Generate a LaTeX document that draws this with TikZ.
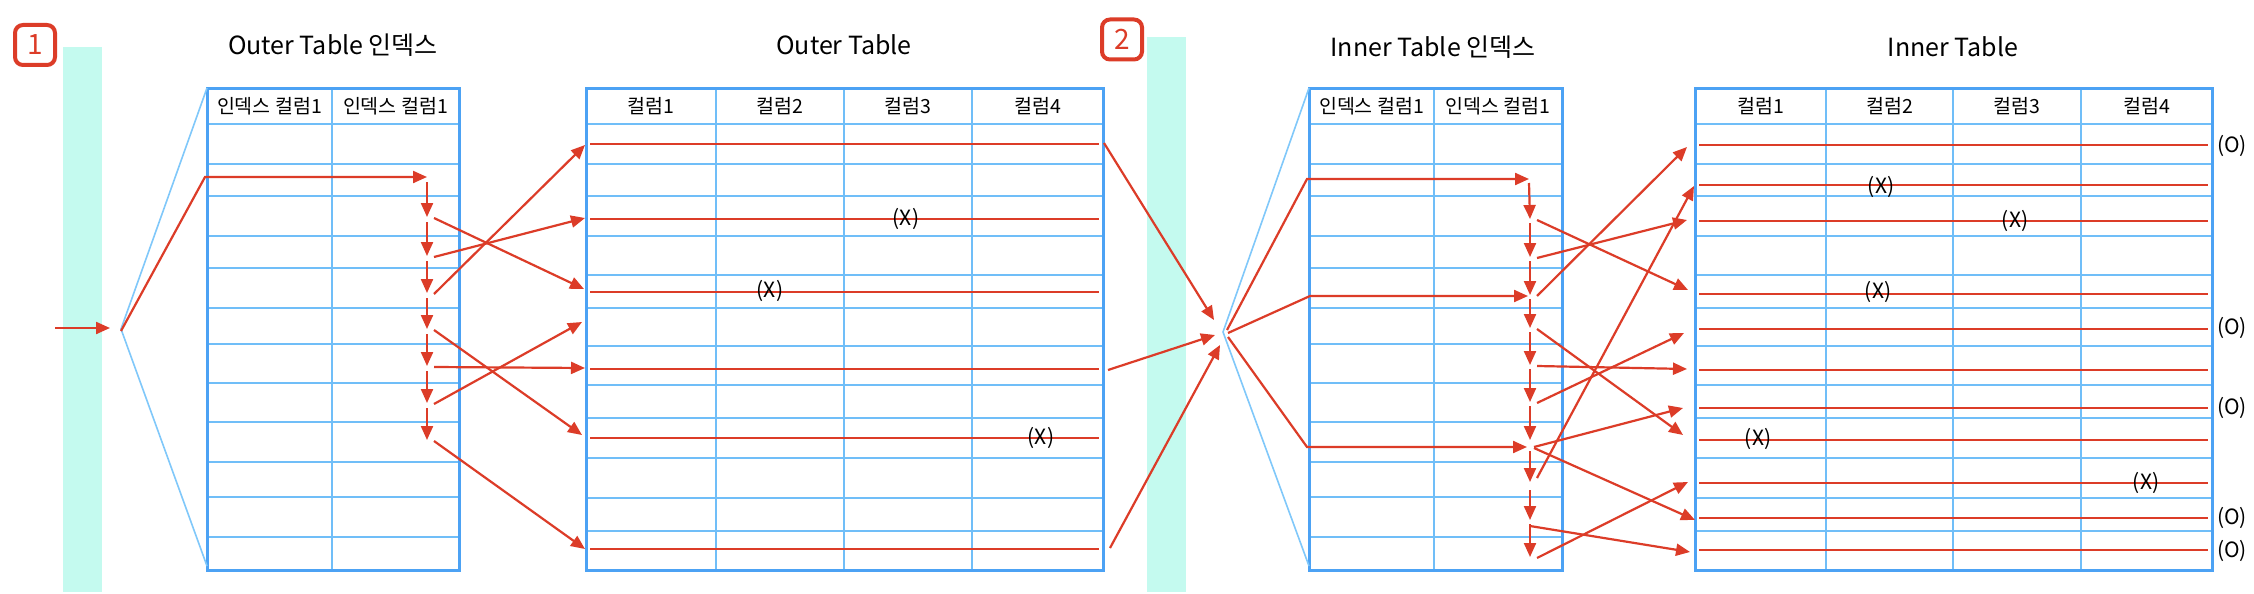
\documentclass[tikz,border=0pt]{standalone}
\usepackage{fontspec}
\setmainfont{Noto Sans CJK KR}
\usetikzlibrary{arrows.meta,calc}
\definecolor{rd}{HTML}{DC3C28}
\definecolor{gridc}{HTML}{70BEF8}
\definecolor{framec}{HTML}{4CA2F4}
\definecolor{fanc}{HTML}{80C8FA}
\definecolor{barc}{HTML}{C4FAEF}
\begin{document}
\begin{tikzpicture}[x=1pt,y=-1pt,
  gridl/.style={gridc,line width=2pt},
  framel/.style={framec,line width=3pt},
  fanl/.style={fanc,line width=1.6pt},
  redl/.style={rd,line width=2.2pt},
  arr/.style={rd,line width=2.2pt,-{Triangle[length=14pt,width=12pt]}},
  ttl/.style={font=\fontsize{25}{30}\selectfont, inner sep=0pt},
  hdr/.style={font=\fontsize{19.5}{22}\selectfont, inner sep=0pt},
  lbl/.style={font=\fontsize{21}{24}\selectfont, inner sep=0pt},
  badge/.style={draw=rd, line width=4pt, rounded corners=8pt, minimum width=40pt, minimum height=40pt, text=rd, font=\fontsize{28}{30}\selectfont, inner sep=0pt}
]
\fill[white] (0,0) rectangle (2254,594);
\useasboundingbox (0,0) rectangle (2254,594);

% ---------- bars and badges
\fill[barc] (63,47) rectangle (102,592);
\fill[barc] (1147,37) rectangle (1186,592);
\node[badge] (b1) at (35,45) {1};
\node[badge] (b2) at (1122,39.5) {2};

% ---------- titles
\node[ttl] (t1) at (333,45) {Outer Table 인덱스};
\node[ttl] (t2) at (844,45) {Outer Table};
\node[ttl] (t3) at (1433,47) {Inner Table 인덱스};
\node[ttl] (t4) at (1953,47) {Inner Table};

% ---------- outer index table
\foreach \y in {124,164,196,236,268,308,344,383,422,462,497,537}
  \draw[gridl] (207,\y) -- (459,\y);
\draw[gridl] (332,88) -- (332,570);
\draw[framel] (207,88) rectangle (459,570);
\node[hdr] (oih1) at (269.5,106) {인덱스 컬럼1};
\node[hdr] (oih2) at (395.5,106) {인덱스 컬럼1};

% ---------- inner index table
\foreach \y in {124,164,196,236,268,308,344,383,422,462,497,537}
  \draw[gridl] (1309,\y) -- (1562,\y);
\draw[gridl] (1434,88) -- (1434,570);
\draw[framel] (1309,88) rectangle (1562,570);
\node[hdr] (iih1) at (1371.5,106) {인덱스 컬럼1};
\node[hdr] (iih2) at (1498,106) {인덱스 컬럼1};

% ---------- outer table
\foreach \y in {124,164,196,236,275,308,346,385,418,458,498,531}
  \draw[gridl] (586,\y) -- (1103,\y);
\foreach \x in {716,844,972}
  \draw[gridl] (\x,88) -- (\x,570);
\draw[framel] (586,88) rectangle (1103,570);
\foreach \x/\n in {651/1,780/2,908/3,1037.5/4}
  \node[hdr] (oth\n) at (\x,106) {컬럼\n};

% ---------- inner table
\foreach \y in {124,164,196,236,275,308,346,385,418,458,498,531}
  \draw[gridl] (1695,\y) -- (2212,\y);
\foreach \x in {1826,1953,2081}
  \draw[gridl] (\x,88) -- (\x,570);
\draw[framel] (1695,88) rectangle (2212,570);
\foreach \x/\n in {1760.5/1,1889.5/2,2017/3,2146.5/4}
  \node[hdr] (ith\n) at (\x,106) {컬럼\n};

% ---------- red row lines
\foreach \y in {144,219,292,369,438,549}
  \draw[redl] (590,\y) -- (1099,\y);
\foreach \y in {145,185,221,294,329,370,408,440,483,518,550}
  \draw[redl] (1699,\y) -- (2208,\y);

% ---------- labels
\node[lbl] (ox1) at (906,219) {(X)};
\node[lbl] (ox2) at (770,291) {(X)};
\node[lbl] (ox3) at (1041,438) {(X)};
\node[lbl] (ix1) at (1881,187) {(X)};
\node[lbl] (ix2) at (2015,221) {(X)};
\node[lbl] (ix3) at (1878,292) {(X)};
\node[lbl] (ix4) at (1758,439) {(X)};
\node[lbl] (ix5) at (2146,483) {(X)};
\foreach \y/\n in {146/1,328/2,408/3,518/4,551/5}
  \node[lbl] (io\n) at (2232,\y) {(O)};

% ---------- fans (blue)
\coordinate (fan1) at (121,329);
\coordinate (fan2) at (1223,332);
\coordinate (oiTL) at (207,88);
\coordinate (oiBL) at (207,566);
\coordinate (iiTL) at (1309,88);
\coordinate (iiBL) at (1309,566);
\draw[fanl] (oiTL) -- (fan1) -- (oiBL);
\draw[fanl] (iiTL) -- (fan2) -- (iiBL);

% ---------- outer index flow
\coordinate (in0) at (55,328);
\coordinate (in1) at (110,328);
\draw[arr] (in0) -- (in1);
\coordinate (oc) at (205,177);
\coordinate (O0) at (427,177);
\draw[arr] ($(fan1)+(0,2)$) -- (oc) -- (O0);
\foreach \i/\y in {1/217,2/256,3/293,4/329,5/366,6/403,7/440}
  \coordinate (O\i) at (427,\y);
\foreach \a/\b in {0/1,1/2,2/3,3/4,4/5,5/6,6/7}
  \draw[arr] ($(O\a)+(0,5)$) -- (O\b);
\coordinate (OT1) at (584,289);
\coordinate (OT2) at (585,218);
\coordinate (OT3) at (585,145);
\coordinate (OT4) at (582,435);
\coordinate (OT5) at (585,368);
\coordinate (OT6) at (582,322);
\coordinate (OT7) at (585,549);
\foreach \i in {1,...,7}
  \draw[arr] ($(O\i)+(7,1)$) -- (OT\i);

% ---------- outer table to second fan
\coordinate (R1) at (1104,143);
\coordinate (R2) at (1108,370);
\coordinate (R3) at (1110,548);
\coordinate (F1) at (1214,320);
\coordinate (F2) at (1215,335);
\coordinate (F3) at (1220,345);
\foreach \i in {1,2,3}
  \draw[arr] (R\i) -- (F\i);

% ---------- inner index flow
\coordinate (ic1) at (1307,179);
\coordinate (ic2) at (1310,296);
\coordinate (ic3) at (1307,447);
\coordinate (I0) at (1529,179);
\coordinate (H3) at (1528,296);
\coordinate (J) at (1527,447);
\draw[arr] ($(fan2)+(4,-2)$) -- (ic1) -- (I0);
\draw[arr] ($(fan2)+(5,1)$) -- (ic2) -- (H3);
\draw[arr] ($(fan2)+(5,5)$) -- (ic3) -- (J);
\foreach \i/\y in {1/219,2/257,3/295,4/328,5/365,6/402,7/440,8/482,9/520,10/557}
  \coordinate (I\i) at (1530,\y);
\coordinate (Jv) at (1530,447);
\coordinate (K) at (1530,526);
\foreach \a/\b in {0/1,1/2,2/3,3/4,4/5,5/6,6/7,9/10}
  \draw[arr] ($(I\a)+(0,4)$) -- (I\b);
\draw[arr] ($(Jv)+(0,4)$) -- (I8);
\draw[arr] ($(I8)+(0,8)$) -- (I9);
\draw[redl] (K) -- ($(I9)+(0,6)$);
\coordinate (IT1) at (1688,290);
\coordinate (IT2) at (1687,220);
\coordinate (IT3) at (1687,147);
\coordinate (IT4) at (1683,435);
\coordinate (IT5) at (1687,369);
\coordinate (IT6) at (1684,333);
\coordinate (IT8) at (1694,186);
\coordinate (IT10) at (1688,482);
\coordinate (ITa) at (1683,408);
\coordinate (ITb) at (1695,520);
\coordinate (ITk) at (1690,552);
\foreach \i in {1,2,3,4,5,6,10}
  \draw[arr] ($(I\i)+(7,1)$) -- (IT\i);
\draw[arr] ($(I8)+(7,-4)$) -- (IT8);
\draw[arr] ($(Jv)+(4,0)$) -- (ITa);
\draw[arr] ($(Jv)+(4,1)$) -- (ITb);
\draw[arr] (K) -- (ITk);
\end{tikzpicture}
\end{document}
